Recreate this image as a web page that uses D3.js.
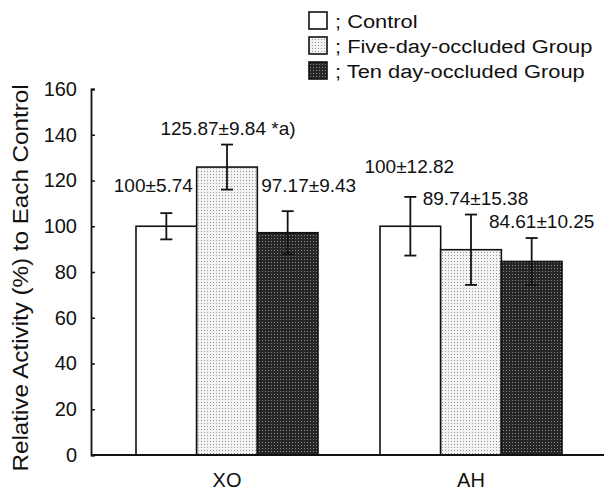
<!DOCTYPE html>
<meta charset="utf-8">
<script src="https://d3js.org/d3.v7.min.js"></script>
<body style="margin:0;background:#fff">
<div id="my_dataviz"></div>
<script>
    // data
    var groups = ["XO", "AH"];
    var series = ["Control", "Five-day-occluded Group", "Ten day-occluded Group"];
    var means = [[100, 125.87, 97.17], [100, 89.74, 84.61]];
    var errors = [[5.74, 9.84, 9.43], [12.82, 15.38, 10.25]];
    var valueLabels = [["100±5.74", "125.87±9.84 *a)", "97.17±9.43"],
                       ["100±12.82", "89.74±15.38", "84.61±10.25"]];
    var yTicks = [0, 20, 40, 60, 80, 100, 120, 140, 160];

    // label anchor: [dx from bar centre, value where baseline sits]
    var labelPos = [[[-13, 115], [1, 140], [21, 115]],
                    [[-1, 123.3], [4.5, 109.3], [10, 99.2]]];

    var W = 604, H = 494;
    var plotLeft = 91, plotBottom = 455, plotTop = 89;
    var font = "'Liberation Sans', Arial, sans-serif";

    var svg = d3.select("#my_dataviz").append("svg")
        .attr("width", W).attr("height", H)
        .style("font-family", font);

    // stippled fills like the printed halftone
    var defs = svg.append("defs");
    var light = defs.append("pattern").attr("id", "dotLight")
        .attr("width", 3).attr("height", 3).attr("patternUnits", "userSpaceOnUse");
    light.append("rect").attr("width", 3).attr("height", 3).attr("fill", "#f3f3f3");
    light.append("rect").attr("width", 1).attr("height", 1).attr("fill", "#9a9a9a");
    var dark = defs.append("pattern").attr("id", "dotDark")
        .attr("width", 3).attr("height", 3).attr("patternUnits", "userSpaceOnUse");
    dark.append("rect").attr("width", 3).attr("height", 3).attr("fill", "#262626");
    dark.append("rect").attr("x", 1).attr("y", 1).attr("width", 1).attr("height", 1).attr("fill", "#8a8a8a");
    var fills = ["#ffffff", "url(#dotLight)", "url(#dotDark)"];

    var y = d3.scaleLinear().domain([0, 160]).range([plotBottom, plotTop]);
    var x0 = d3.scaleBand().domain(groups).range([105, 593]);
    var x1 = d3.scaleBand().domain(series).range([31, 213]);

    // bars
    var g = svg.selectAll(".grp").data(groups).enter().append("g")
        .attr("transform", function(d) { return "translate(" + x0(d) + ",0)"; });

    g.each(function(gname, gi) {
        var sel = d3.select(this);
        series.forEach(function(s, si) {
            var cx = x1(s) + x1.bandwidth() / 2;
            sel.append("rect")
                .attr("x", x1(s)).attr("y", y(means[gi][si]))
                .attr("width", x1.bandwidth()).attr("height", plotBottom - y(means[gi][si]))
                .attr("fill", fills[si]).attr("stroke", "#111").attr("stroke-width", 1.6);
            var hi = y(means[gi][si] + errors[gi][si]), lo = y(means[gi][si] - errors[gi][si]);
            var ebar = sel.append("g").attr("stroke", "#111").attr("stroke-width", 1.8);
            ebar.append("line").attr("x1", cx).attr("x2", cx).attr("y1", hi).attr("y2", lo);
            ebar.append("line").attr("x1", cx - 6).attr("x2", cx + 6).attr("y1", hi).attr("y2", hi);
            ebar.append("line").attr("x1", cx - 6).attr("x2", cx + 6).attr("y1", lo).attr("y2", lo);
            sel.append("text")
                .attr("x", cx + labelPos[gi][si][0]).attr("y", y(labelPos[gi][si][1]))
                .attr("text-anchor", "middle").attr("font-size", 19).attr("fill", "#111")
                .text(valueLabels[gi][si]);
        });
    });

    // y axis with inward ticks
    var yAxis = svg.append("g").attr("transform", "translate(" + plotLeft + ",0)")
        .call(d3.axisLeft(y).tickValues(yTicks).tickSize(-4).tickPadding(14));
    yAxis.select(".domain").attr("stroke", "#111").attr("stroke-width", 1.8);
    yAxis.selectAll(".tick line").attr("stroke", "#111").attr("stroke-width", 1.5);
    yAxis.selectAll("text").attr("font-size", 20).attr("font-family", font).attr("fill", "#111");

    // x axis baseline
    var xAxis = svg.append("g").attr("transform", "translate(0," + plotBottom + ")")
        .call(d3.axisBottom(x0).tickSize(0).tickPadding(18));
    xAxis.select(".domain").attr("d", "M" + plotLeft + ",0H" + W)
        .attr("stroke", "#111").attr("stroke-width", 1.8);
    xAxis.selectAll("text").attr("font-size", 20).attr("font-family", font).attr("fill", "#111");

    // y label (slightly wide letters as in the scan)
    svg.append("text")
        .attr("transform", "translate(28,278) rotate(-90) scale(1.1,1)")
        .attr("text-anchor", "middle").attr("font-size", 22).attr("fill", "#111")
        .text("Relative Activity (%) to Each Control");

    // legend
    var leg = svg.append("g").attr("transform", "translate(309,12)");
    series.forEach(function(s, i) {
        leg.append("rect").attr("x", 0).attr("y", i * 25).attr("width", 18).attr("height", 17)
            .attr("fill", fills[i]).attr("stroke", "#111").attr("stroke-width", 1.6);
        leg.append("text").attr("transform", "translate(26," + (i * 25 + 16) + ") scale(1.15,1)")
            .attr("font-size", 19).attr("fill", "#111").text("; " + s);
    });
</script>
</body>
